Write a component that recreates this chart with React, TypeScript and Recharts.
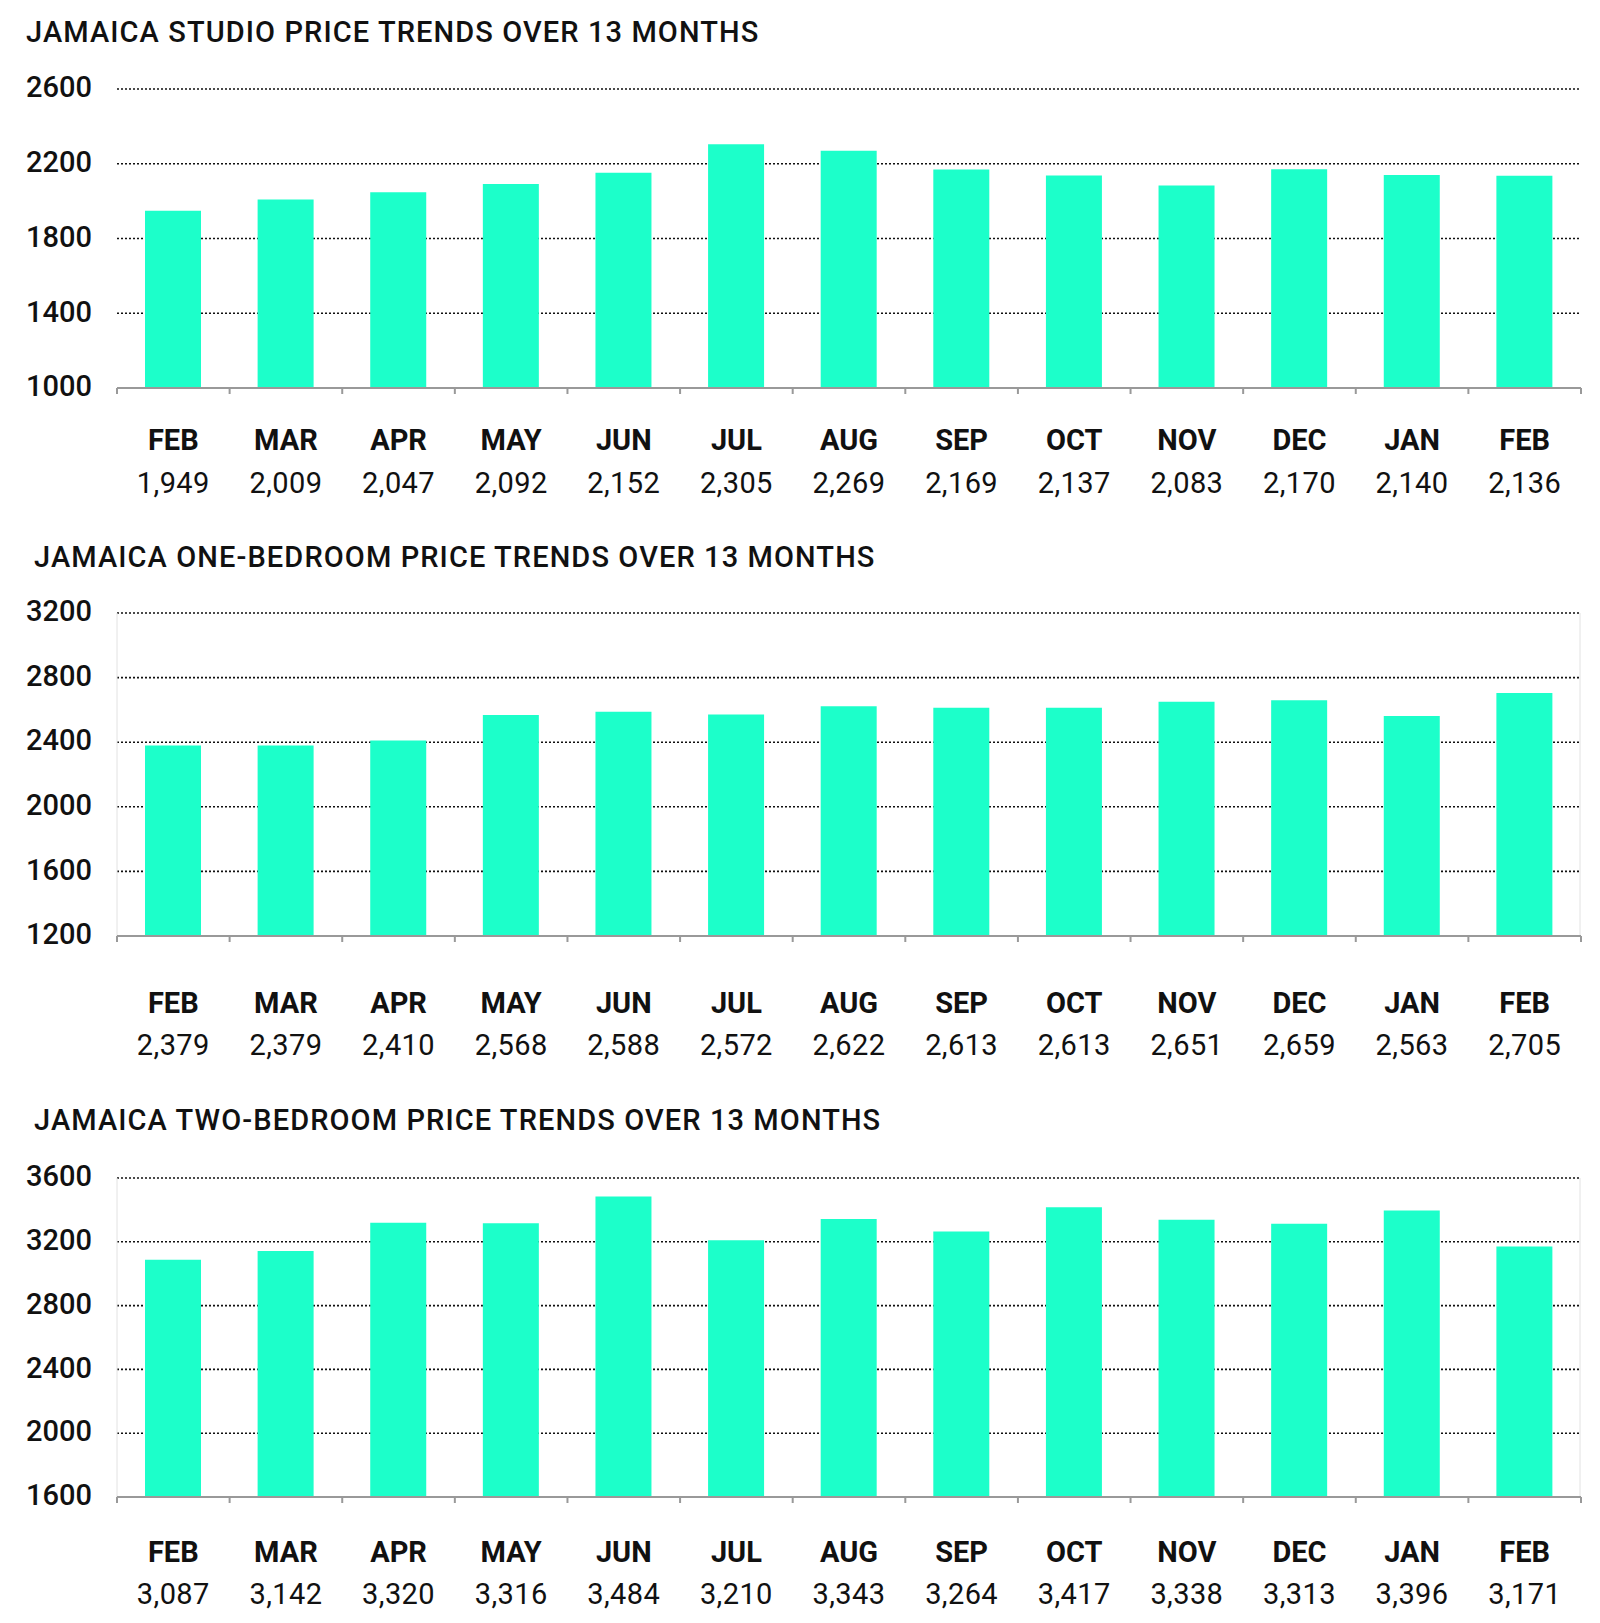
import React from "react";
import { BarChart, Bar, XAxis, YAxis, CartesianGrid } from "recharts";

const months = ["FEB", "MAR", "APR", "MAY", "JUN", "JUL", "AUG", "SEP", "OCT", "NOV", "DEC", "JAN", "FEB"];

const studioPrices = [1949, 2009, 2047, 2092, 2152, 2305, 2269, 2169, 2137, 2083, 2170, 2140, 2136];
const oneBedPrices = [2379, 2379, 2410, 2568, 2588, 2572, 2622, 2613, 2613, 2651, 2659, 2563, 2705];
const twoBedPrices = [3087, 3142, 3320, 3316, 3484, 3210, 3343, 3264, 3417, 3338, 3313, 3396, 3171];

const studioTicks = [1000, 1400, 1800, 2200, 2600];
const oneBedTicks = [1200, 1600, 2000, 2400, 2800, 3200];
const twoBedTicks = [1600, 2000, 2400, 2800, 3200, 3600];

const FONT = "Roboto, 'Noto Sans', sans-serif";
const BAR = "#1cffca";
const PLOT_LEFT = 117;
const PLOT_RIGHT = 1581;
const MARGIN_TOP = 20;

type PanelProps = {
  title: string;
  titleLeft: number;
  titleBaseline: number;
  values: number[];
  ticks: number[];
  plotTop: number;
  plotBottom: number;
  monthDy: number;
  valueDy: number;
  frame: boolean;
};

function Panel(p: PanelProps) {
  const data = months.map((m, i) => ({ month: m, idx: i, value: p.values[i] }));
  const plotH = p.plotBottom - p.plotTop;
  const axisH = 126;
  const height = MARGIN_TOP + plotH + axisH;
  const axisY = MARGIN_TOP + plotH;
  const step = (PLOT_RIGHT - PLOT_LEFT) / months.length;

  const renderTick = (props: any) => {
    const { x, payload } = props;
    const i = payload.index;
    return (
      <g>
        <line x1={x - step / 2} x2={x - step / 2} y1={axisY} y2={axisY + 6} stroke="#999" strokeWidth={2} />
        {i === months.length - 1 && (
          <line x1={x + step / 2} x2={x + step / 2} y1={axisY} y2={axisY + 6} stroke="#999" strokeWidth={2} />
        )}
        <text x={x} y={axisY + p.monthDy} textAnchor="middle" fontFamily={FONT} fontWeight={700} fontSize={29} fill="#111">
          {months[i]}
        </text>
        <text
          x={x}
          y={axisY + p.valueDy}
          textAnchor="middle"
          fontFamily={FONT}
          fontWeight={400}
          fontSize={29}
          letterSpacing={0.4}
          fill="#111"
        >
          {p.values[i].toLocaleString("en-US")}
        </text>
      </g>
    );
  };

  const renderYTick = (props: any) => {
    const { x, y, payload } = props;
    return (
      <text x={x} y={y - 2} dy="0.355em" textAnchor="end" fontFamily={FONT} fontWeight={500} fontSize={29} fill="#111">
        {payload.value}
      </text>
    );
  };

  return (
    <>
      <div
        style={{
          position: "absolute",
          left: p.titleLeft,
          top: p.titleBaseline - 25,
          fontFamily: FONT,
          fontWeight: 500,
          fontSize: 29,
          lineHeight: "29px",
          letterSpacing: "1.1px",
          color: "#111",
          whiteSpace: "nowrap",
        }}
      >
        {p.title}
      </div>
      <div style={{ position: "absolute", left: 0, top: p.plotTop - MARGIN_TOP }}>
        <BarChart
          width={1600}
          height={height}
          data={data}
          margin={{ top: MARGIN_TOP, right: 1600 - PLOT_RIGHT, left: 0, bottom: 0 }}
        >
          <CartesianGrid vertical={false} stroke="#111" strokeWidth={1.6} strokeDasharray="2 2" />
          {p.frame && (
            <CartesianGrid horizontal={false} verticalPoints={[PLOT_LEFT, PLOT_RIGHT - 1]} stroke="#e2e2e2" strokeWidth={1} />
          )}
          <XAxis
            dataKey="idx"
            type="category"
            height={axisH}
            axisLine={{ stroke: "#999", strokeWidth: 2 }}
            tickLine={false}
            interval={0}
            tick={renderTick}
          />
          <YAxis
            type="number"
            domain={[p.ticks[0], p.ticks[p.ticks.length - 1]]}
            ticks={p.ticks}
            interval={0}
            width={PLOT_LEFT}
            axisLine={false}
            tickLine={false}
            tickMargin={19}
            tick={renderYTick}
          />
          <Bar dataKey="value" fill={BAR} barSize={56} isAnimationActive={false} />
        </BarChart>
      </div>
    </>
  );
}

export default function App() {
  return (
    <div style={{ position: "absolute", left: 0, top: 0, width: 1600, height: 1623, background: "#fff", overflow: "hidden" }}>
      <Panel
        title="JAMAICA STUDIO PRICE TRENDS OVER 13 MONTHS"
        titleLeft={26}
        titleBaseline={43}
        values={studioPrices}
        ticks={studioTicks}
        plotTop={89}
        plotBottom={388}
        monthDy={62}
        valueDy={105}
        frame={false}
      />
      <Panel
        title="JAMAICA ONE-BEDROOM PRICE TRENDS OVER 13 MONTHS"
        titleLeft={34}
        titleBaseline={568}
        values={oneBedPrices}
        ticks={oneBedTicks}
        plotTop={613}
        plotBottom={936}
        monthDy={77}
        valueDy={119}
        frame={true}
      />
      <Panel
        title="JAMAICA TWO-BEDROOM PRICE TRENDS OVER 13 MONTHS"
        titleLeft={34}
        titleBaseline={1131}
        values={twoBedPrices}
        ticks={twoBedTicks}
        plotTop={1178}
        plotBottom={1497}
        monthDy={65}
        valueDy={107}
        frame={true}
      />
    </div>
  );
}
